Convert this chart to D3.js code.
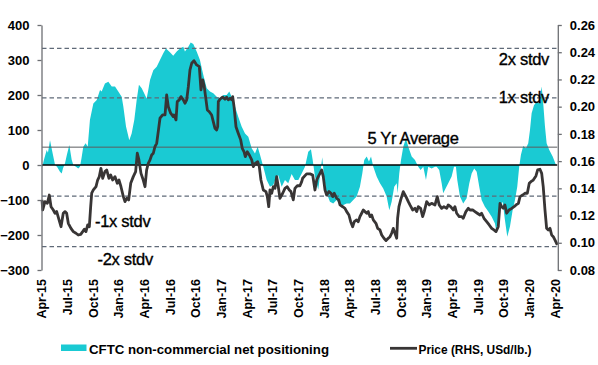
<!DOCTYPE html>
<html>
<head>
<meta charset="utf-8">
<script src="https://cdn.jsdelivr.net/npm/d3@7"></script>
<style>
  html, body { margin: 0; padding: 0; background: #fff; }
  svg { display: block; font-family: "Liberation Sans", Arial, sans-serif; }
</style>
</head>
<body>
<svg id="chart" width="598" height="365"></svg>
<script>
// ---- Data (time as decimal years) ----
const positioning = [
[2015.250,-8],[2015.269,15],[2015.296,43],[2015.308,35],[2015.328,71],[2015.354,33],[2015.377,0],[2015.396,-5],
[2015.425,-19],[2015.442,-24],[2015.454,-10],[2015.474,5],[2015.493,30],[2015.516,57],[2015.539,15],[2015.555,0],
[2015.581,-5],[2015.603,-10],[2015.620,-5],[2015.635,20],[2015.652,52],[2015.675,62],[2015.695,52],[2015.717,129],
[2015.750,176],[2015.783,186],[2015.815,214],[2015.831,210],[2015.863,233],[2015.896,238],[2015.929,224],[2015.961,224],
[2015.993,210],[2016.026,195],[2016.042,167],[2016.068,110],[2016.100,71],[2016.123,90],[2016.149,129],[2016.172,186],
[2016.194,229],[2016.221,219],[2016.253,200],[2016.269,190],[2016.285,214],[2016.302,243],[2016.334,271],[2016.367,281],
[2016.399,300],[2016.431,319],[2016.457,333],[2016.496,322],[2016.528,312],[2016.562,324],[2016.594,333],[2016.626,338],
[2016.642,324],[2016.675,338],[2016.698,350],[2016.723,346],[2016.756,324],[2016.788,300],[2016.821,257],[2016.854,219],
[2016.886,210],[2016.918,205],[2016.951,195],[2016.983,190],[2017.015,200],[2017.048,200],[2017.074,210],[2017.097,195],
[2017.129,167],[2017.161,138],[2017.194,110],[2017.227,90],[2017.259,81],[2017.292,48],[2017.324,33],[2017.350,52],
[2017.373,29],[2017.405,-5],[2017.438,-43],[2017.470,-62],[2017.502,-57],[2017.535,-33],[2017.551,-29],[2017.584,-62],
[2017.616,-43],[2017.648,-52],[2017.681,-26],[2017.713,-43],[2017.746,-43],[2017.779,-24],[2017.811,-5],[2017.843,38],
[2017.869,45],[2017.886,14],[2017.908,-33],[2017.940,-71],[2017.964,-14],[2017.979,22],[2017.996,-33],[2018.022,-81],
[2018.054,-105],[2018.086,-110],[2018.119,-100],[2018.152,-114],[2018.184,-114],[2018.217,-110],[2018.249,-110],[2018.281,-100],
[2018.314,-90],[2018.346,-62],[2018.369,-24],[2018.388,14],[2018.412,24],[2018.434,10],[2018.454,24],[2018.476,-5],
[2018.509,-33],[2018.541,-52],[2018.573,-67],[2018.606,-90],[2018.632,-129],[2018.655,-105],[2018.680,-62],[2018.704,-52],
[2018.713,-81],[2018.729,-24],[2018.746,14],[2018.768,52],[2018.794,76],[2018.817,52],[2018.850,24],[2018.882,14],
[2018.914,-5],[2018.937,-14],[2018.963,-5],[2018.989,-43],[2019.011,-5],[2019.044,-10],[2019.077,-5],[2019.093,-5],
[2019.118,-14],[2019.142,-52],[2019.157,-81],[2019.174,-71],[2019.206,-52],[2019.239,-33],[2019.262,-5],[2019.281,-5],
[2019.294,-43],[2019.320,-90],[2019.352,-110],[2019.385,-95],[2019.411,-52],[2019.434,-24],[2019.459,-10],[2019.483,-19],
[2019.508,-62],[2019.531,-100],[2019.563,-119],[2019.596,-133],[2019.629,-148],[2019.661,-167],[2019.677,-195],[2019.710,-119],
[2019.736,-105],[2019.758,-157],[2019.781,-205],[2019.807,-176],[2019.833,-129],[2019.856,-100],[2019.878,-62],[2019.897,-5],
[2019.914,29],[2019.936,54],[2019.963,48],[2019.985,62],[2020.002,100],[2020.018,148],[2020.041,171],[2020.067,181],
[2020.092,176],[2020.116,224],[2020.131,176],[2020.148,110],[2020.164,62],[2020.190,43],[2020.223,24],[2020.255,0]
];

const price = [
[2015.250,0.1315],[2015.257,0.1241],[2015.279,0.1302],[2015.302,0.1290],[2015.321,0.1351],[2015.338,0.1265],[2015.360,0.1241],[2015.377,0.1217],
[2015.393,0.1229],[2015.416,0.1168],[2015.435,0.1118],[2015.457,0.1217],[2015.474,0.1229],[2015.490,0.1217],[2015.506,0.1143],[2015.532,0.1106],
[2015.555,0.1082],[2015.581,0.1070],[2015.603,0.1057],[2015.627,0.1062],[2015.646,0.1082],[2015.662,0.1100],[2015.678,0.1082],[2015.695,0.1131],
[2015.711,0.1118],[2015.724,0.1265],[2015.734,0.1364],[2015.750,0.1388],[2015.776,0.1412],[2015.792,0.1461],[2015.808,0.1486],[2015.824,0.1547],
[2015.841,0.1474],[2015.863,0.1523],[2015.880,0.1535],[2015.902,0.1474],[2015.919,0.1498],[2015.938,0.1461],[2015.961,0.1486],[2015.983,0.1437],
[2016.000,0.1461],[2016.019,0.1412],[2016.042,0.1339],[2016.058,0.1302],[2016.075,0.1327],[2016.094,0.1315],[2016.114,0.1437],[2016.139,0.1486],
[2016.162,0.1523],[2016.178,0.1658],[2016.194,0.1609],[2016.214,0.1510],[2016.236,0.1461],[2016.253,0.1412],[2016.269,0.1535],[2016.285,0.1584],
[2016.302,0.1609],[2016.318,0.1645],[2016.334,0.1658],[2016.350,0.1706],[2016.367,0.1731],[2016.382,0.1817],[2016.399,0.1915],[2016.425,0.1939],
[2016.448,0.1939],[2016.464,0.2086],[2016.480,0.2000],[2016.503,0.1952],[2016.528,0.1927],[2016.535,0.1939],[2016.555,0.1903],[2016.567,0.2037],
[2016.587,0.2050],[2016.603,0.2074],[2016.626,0.2050],[2016.642,0.2025],[2016.659,0.2050],[2016.675,0.2147],[2016.691,0.2270],[2016.708,0.2319],
[2016.730,0.2338],[2016.756,0.2307],[2016.782,0.2294],[2016.798,0.2123],[2016.815,0.2197],[2016.830,0.2147],[2016.847,0.2050],[2016.860,0.1976],
[2016.879,0.1963],[2016.902,0.1939],[2016.918,0.1890],[2016.934,0.1842],[2016.951,0.1829],[2016.961,0.1853],[2016.967,0.2037],[2016.983,0.2055],
[2017.009,0.2070],[2017.032,0.2055],[2017.048,0.2070],[2017.064,0.2050],[2017.081,0.2062],[2017.097,0.2050],[2017.107,0.2074],[2017.120,0.2000],
[2017.139,0.1853],[2017.161,0.1805],[2017.185,0.1756],[2017.200,0.1694],[2017.217,0.1669],[2017.230,0.1633],[2017.249,0.1669],[2017.269,0.1645],
[2017.292,0.1609],[2017.308,0.1560],[2017.327,0.1584],[2017.350,0.1596],[2017.366,0.1560],[2017.382,0.1461],[2017.405,0.1388],[2017.431,0.1376],
[2017.444,0.1339],[2017.458,0.1265],[2017.470,0.1388],[2017.487,0.1364],[2017.502,0.1412],[2017.519,0.1400],[2017.535,0.1486],[2017.551,0.1412],
[2017.567,0.1327],[2017.594,0.1364],[2017.616,0.1400],[2017.638,0.1412],[2017.658,0.1388],[2017.674,0.1376],[2017.697,0.1315],[2017.713,0.1400],
[2017.736,0.1419],[2017.762,0.1419],[2017.779,0.1449],[2017.788,0.1474],[2017.827,0.1506],[2017.860,0.1506],[2017.886,0.1498],[2017.908,0.1388],
[2017.925,0.1461],[2017.940,0.1486],[2017.957,0.1510],[2017.974,0.1535],[2017.989,0.1486],[2018.006,0.1388],[2018.022,0.1351],[2018.045,0.1376],
[2018.064,0.1364],[2018.081,0.1339],[2018.096,0.1364],[2018.119,0.1327],[2018.139,0.1315],[2018.152,0.1278],[2018.178,0.1265],[2018.200,0.1253],
[2018.217,0.1229],[2018.239,0.1204],[2018.256,0.1155],[2018.275,0.1118],[2018.291,0.1155],[2018.314,0.1168],[2018.330,0.1155],[2018.346,0.1192],
[2018.363,0.1217],[2018.379,0.1241],[2018.395,0.1229],[2018.412,0.1217],[2018.427,0.1229],[2018.444,0.1192],[2018.460,0.1204],[2018.476,0.1168],
[2018.502,0.1143],[2018.519,0.1106],[2018.541,0.1094],[2018.558,0.1057],[2018.580,0.1033],[2018.600,0.1016],[2018.622,0.1033],[2018.639,0.1045],
[2018.655,0.1070],[2018.671,0.1106],[2018.687,0.1070],[2018.704,0.1033],[2018.713,0.1180],[2018.726,0.1265],[2018.743,0.1315],[2018.768,0.1376],
[2018.794,0.1339],[2018.817,0.1302],[2018.833,0.1278],[2018.860,0.1241],[2018.882,0.1253],[2018.899,0.1229],[2018.914,0.1265],[2018.937,0.1253],
[2018.957,0.1192],[2018.972,0.1229],[2018.996,0.1302],[2019.021,0.1278],[2019.044,0.1290],[2019.077,0.1278],[2019.099,0.1339],[2019.118,0.1278],
[2019.142,0.1253],[2019.164,0.1265],[2019.191,0.1253],[2019.206,0.1278],[2019.229,0.1265],[2019.255,0.1241],[2019.271,0.1265],[2019.288,0.1217],
[2019.313,0.1192],[2019.337,0.1192],[2019.352,0.1180],[2019.378,0.1229],[2019.401,0.1253],[2019.418,0.1241],[2019.444,0.1241],[2019.466,0.1229],
[2019.489,0.1217],[2019.515,0.1204],[2019.531,0.1217],[2019.554,0.1180],[2019.580,0.1155],[2019.605,0.1131],[2019.629,0.1106],[2019.651,0.1094],
[2019.671,0.1082],[2019.693,0.1118],[2019.710,0.1290],[2019.726,0.1265],[2019.742,0.1253],[2019.758,0.1278],[2019.775,0.1217],[2019.798,0.1241],
[2019.824,0.1253],[2019.847,0.1265],[2019.866,0.1278],[2019.889,0.1290],[2019.905,0.1339],[2019.931,0.1351],[2019.953,0.1364],[2019.976,0.1364],
[2019.995,0.1437],[2020.011,0.1449],[2020.034,0.1461],[2020.060,0.1491],[2020.077,0.1535],[2020.099,0.1540],[2020.116,0.1510],[2020.131,0.1412],
[2020.148,0.1241],[2020.164,0.1106],[2020.180,0.1094],[2020.197,0.1106],[2020.213,0.1057],[2020.229,0.1045],[2020.246,0.1020],[2020.268,0.0984]
];

const xTickTimes  = [2015.25,2015.5,2015.75,2016.0,2016.25,2016.5,2016.75,2017.0,2017.25,2017.5,2017.75,
                     2018.0,2018.25,2018.5,2018.75,2019.0,2019.25,2019.5,2019.75,2020.0,2020.25];
const xTickLabels = ["Apr-15","Jul-15","Oct-15","Jan-16","Apr-16","Jul-16","Oct-16","Jan-17","Apr-17","Jul-17","Oct-17",
                     "Jan-18","Apr-18","Jul-18","Oct-18","Jan-19","Apr-19","Jul-19","Oct-19","Jan-20","Apr-20"];
const leftTicks  = [-300,-200,-100,0,100,200,300,400];
const rightTicks = [0.08,0.10,0.12,0.14,0.16,0.18,0.20,0.22,0.24,0.26];

const stdvLevels = [333, 192, -89, -233];
const stdvLabels = ["2x stdv", "1x stdv", "-1x stdv", "-2x stdv"];
const avgLevel = 51;
const avgLabel = "5 Yr Average";
const legendLabels = ["CFTC non-commercial net positioning", "Price (RHS, USd/lb.)"];

// ---- Chart ----
const svg = d3.select("#chart");
const teal = "#1acad3", lineCol = "#383535", axisCol = "#6d6f73", dashCol = "#5f6a78";

const x  = d3.scaleLinear().domain([2015.25, 2020.268]).range([42, 557.3]);
const yL = d3.scaleLinear().domain([-300, 400]).range([270, 25]);
const yR = d3.scaleLinear().domain([0.08, 0.26]).range([270, 25]);

// area
svg.append("path")
  .datum(positioning)
  .attr("fill", teal)
  .attr("d", d3.area().x(d => x(d[0])).y0(yL(0)).y1(d => yL(d[1])));

// stdv dashed lines
svg.selectAll(".stdv").data(stdvLevels).enter().append("line")
  .attr("x1", x(2015.25)).attr("x2", x(2020.268))
  .attr("y1", d => yL(d)).attr("y2", d => yL(d))
  .attr("stroke", dashCol).attr("stroke-width", 1.2).attr("stroke-dasharray", "4.5,3");

// 5yr average line
svg.append("line")
  .attr("x1", x(2015.25)).attr("x2", x(2020.268))
  .attr("y1", yL(avgLevel)).attr("y2", yL(avgLevel))
  .attr("stroke", "#5a5c60").attr("stroke-width", 1);

// zero line
svg.append("line")
  .attr("x1", x(2015.25)).attr("x2", x(2020.268))
  .attr("y1", yL(0)).attr("y2", yL(0))
  .attr("stroke", "#000").attr("stroke-width", 1.4);

// price line
svg.append("path")
  .datum(price)
  .attr("fill", "none").attr("stroke", lineCol).attr("stroke-width", 2.8)
  .attr("stroke-linejoin", "round")
  .attr("d", d3.line().x(d => x(d[0])).y(d => yR(d[1])));

// axes
const gL = svg.append("g").attr("transform", "translate(41.5,0)")
  .call(d3.axisLeft(yL).tickValues(leftTicks).tickSize(4).tickSizeOuter(0).tickPadding(8));
const gR = svg.append("g").attr("transform", "translate(557.8,0)")
  .call(d3.axisRight(yR).tickValues(rightTicks).tickFormat(d3.format(".2f")).tickSize(4).tickSizeOuter(0).tickPadding(8));
[gL, gR].forEach(g => {
  g.select(".domain").attr("stroke", axisCol).attr("stroke-width", 1.3);
  g.selectAll(".tick line").attr("stroke", axisCol).attr("stroke-width", 1.3);
  g.selectAll(".tick text").attr("fill", "#000").style("font-size", "13px").style("font-weight", "bold")
    .style("font-family", "'Liberation Sans', Arial, sans-serif");
});

// x tick labels (rotated)
svg.selectAll(".xlab").data(xTickTimes).enter().append("text")
  .attr("transform", d => `translate(${x(d)},279) rotate(-90)`)
  .attr("text-anchor", "end").attr("dy", "0.35em")
  .style("font-size", "12.5px").style("font-weight", "bold")
  .text((d, i) => xTickLabels[i]);

// annotation labels
const ann = [
  {t: stdvLabels[0], x: 549, y: yL(stdvLevels[0]) + 17, a: "end"},
  {t: stdvLabels[1], x: 549, y: yL(stdvLevels[1]) + 5, a: "end"},
  {t: stdvLabels[2], x: 95, y: yL(stdvLevels[2]) + 30.5, a: "start"},
  {t: stdvLabels[3], x: 97.5, y: yL(stdvLevels[3]) + 18.5, a: "start"},
  {t: avgLabel, x: 413, y: yL(avgLevel) - 3.5, a: "middle"}
];
svg.selectAll(".ann").data(ann).enter().append("text")
  .attr("x", d => d.x).attr("y", d => d.y).attr("text-anchor", d => d.a)
  .style("font-size", "16.5px").attr("fill", "#000")
  .attr("stroke", "#000").attr("stroke-width", 0.35)
  .style("letter-spacing", "-0.3px")
  .text(d => d.t);

// legend
svg.append("rect").attr("x", 61).attr("y", 344.5).attr("width", 25.5).attr("height", 6.5).attr("fill", teal);
svg.append("text").attr("x", 89).attr("y", 353.5)
  .style("font-size", "13px").style("font-weight", "bold")
  .attr("textLength", 240).attr("lengthAdjust", "spacingAndGlyphs")
  .text(legendLabels[0]);
svg.append("line").attr("x1", 390).attr("x2", 417).attr("y1", 348.3).attr("y2", 348.3)
  .attr("stroke", lineCol).attr("stroke-width", 2.8);
svg.append("text").attr("x", 418.5).attr("y", 353.5)
  .style("font-size", "13px").style("font-weight", "bold")
  .attr("textLength", 113).attr("lengthAdjust", "spacingAndGlyphs")
  .text(legendLabels[1]);
</script>
</body>
</html>
